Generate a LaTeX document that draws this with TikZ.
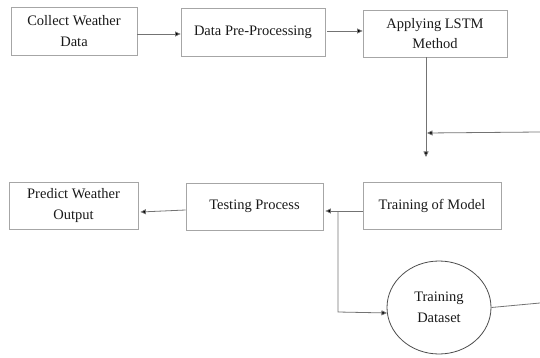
\documentclass[tikz,border=0pt]{standalone}
\usepackage{fontspec}
\setmainfont{Liberation Serif}
\usetikzlibrary{arrows.meta,shapes.geometric}

\tikzset{
  x=1pt, y=-1pt,
  stepbox/.style={draw=black!35, line width=0.8pt, align=center, inner sep=2pt,
    font=\fontsize{14.5}{20.5}\selectfont, text=black!90},
  link/.style={draw=black!55, line width=0.8pt},
  arr/.style={link, -{Triangle[length=5.5pt,width=5pt,fill=black]}},
}

\begin{document}
\begin{tikzpicture}
  \useasboundingbox (0,0) rectangle (540,358);

  % upper row
  \node[stepbox, minimum width=126pt, minimum height=48pt] (collect) at (74,31) {Collect Weather\\Data};
  \node[stepbox, minimum width=144pt, minimum height=48pt] (prep) at (253,32) {Data Pre-Processing};
  \node[stepbox, minimum width=144pt, minimum height=47pt] (lstm) at (435,33.5) {Applying LSTM\\Method};

  % lower row
  \node[stepbox, minimum width=129pt, minimum height=47pt] (predict) at (73.5,205.5) {Predict Weather\\Output};
  \node[stepbox, minimum width=137pt, minimum height=47pt] (test) at (254.5,206.5) {Testing Process};
  \node[stepbox, minimum width=138pt, minimum height=47pt] (train) at (432,205.5) {Training of Model};

  % dataset
  \node[ellipse, draw=black!70, line width=0.8pt, minimum width=104pt, minimum height=93pt,
    align=center, font=\fontsize{14.5}{20.5}\selectfont, text=black!90] (dset) at (439,307.5) {Training\\Dataset};

  % helper points
  \coordinate (down) at (426,157);
  \coordinate (join) at (427,133);
  \coordinate (rin) at (540,132);
  \coordinate (fork) at (338,211);
  \coordinate (corner) at (338,312);
  \coordinate (rout) at (540,303);

  % connectors
  \draw[arr] (collect.east |- 0,34) -- (prep.west |- 0,34);
  \draw[arr] ([xshift=2pt]prep.east |- 0,31) -- (lstm.west |- 0,31);
  \draw[arr] (lstm.south -| down) -- (down);
  \draw[arr] (rin) -- (join);
  \draw[arr] (train.west |- 0,211) -- ([xshift=2pt]test.east |- 0,211);
  \draw[arr] (test.west |- 0,210) -- ([xshift=2pt]predict.east |- 0,212);
  \draw[arr] (fork) -- (corner) -- (dset.186);
  \draw[link] (dset.east) -- (rout);
\end{tikzpicture}
\end{document}
